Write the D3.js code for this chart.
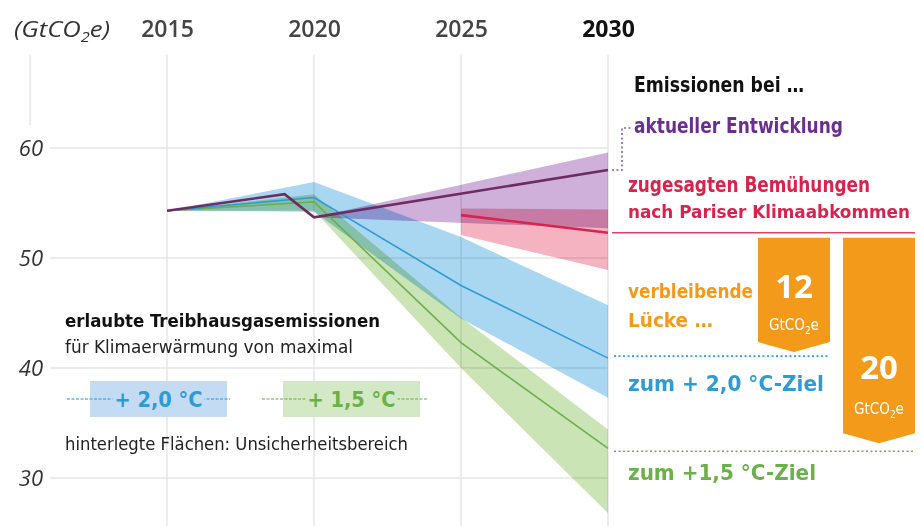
<!DOCTYPE html>
<html><head><meta charset="utf-8">
<script src="https://cdn.jsdelivr.net/npm/d3@7"></script>
<style>
html,body{margin:0;padding:0;background:#fff;}
svg{display:block;}
.nar{font-family:"Liberation Sans Narrow","DejaVu Sans Condensed","Roboto Condensed",sans-serif;}
.os{font-family:"Open Sans","DejaVu Sans",sans-serif;}
</style></head><body>
<svg id="c" width="922" height="526"></svg>
<script>
// ---- data ----
const yearTicks = [2015, 2020, 2025, 2030];
const valueTicks = [30, 40, 50, 60];

const trendYears = [2015, 2019, 2020, 2030];
const trendValues = [54.3, 55.8, 53.7, 58.0];
const trendBandYears = [2020, 2030];
const trendBandUpper = [53.7, 59.6];
const trendBandLower = [53.7, 52.7];

const pledgeYears = [2025, 2030];
const pledgeValues = [53.9, 52.3];
const pledgeUpper = [54.5, 54.4];
const pledgeLower = [52.1, 48.9];

const pathYears = [2015, 2020, 2025, 2030];
const twoDegValues = [54.3, 55.5, 47.5, 40.9];
const twoDegUpper = [54.3, 56.9, 51.9, 45.7];
const twoDegLower = [54.3, 54.2, 44.5, 37.3];
const oneFiveValues = [54.3, 55.1, 42.3, 32.7];
const oneFiveUpper = [54.3, 55.8, 44.6, 34.4];
const oneFiveLower = [54.3, 54.3, 40.0, 26.8];

const gaps = [12, 20];

// ---- setup ----
const svg = d3.select("#c");
const x = d3.scaleLinear().domain([2015, 2030]).range([167, 608]);
const y = d3.scaleLinear().domain([30, 60]).range([478, 148]);

const C = {
  purple:"#6e2c63", purpleBand:"#cfb0da", purpleText:"#6c2d91",
  red:"#d7234d", redBand:"#f5b2c0",
  blue:"#2f9bd5", blueBand:"#a9d7f1",
  green:"#6cb04a", greenBand:"#cae4b6",
  orange:"#f39a1a", grid:"#e6e6e6"
};

// grid
svg.append("g").selectAll("line").data(valueTicks).join("line")
  .attr("x1",50).attr("x2",x(2030)).attr("y1",d=>y(d)).attr("y2",d=>y(d))
  .attr("stroke",C.grid).attr("stroke-width",1.3);
svg.append("g").selectAll("line").data(yearTicks).join("line")
  .attr("x1",d=>x(d)).attr("x2",d=>x(d)).attr("y1",55).attr("y2",526)
  .attr("stroke",C.grid).attr("stroke-width",1.5);
svg.append("line").attr("x1",30).attr("x2",30).attr("y1",55).attr("y2",125)
  .attr("stroke",C.grid).attr("stroke-width",1.5);

// year axis
const gx = svg.append("g").attr("transform","translate(0,37)")
  .call(d3.axisTop(x).tickValues(yearTicks).tickSize(0).tickPadding(0).tickFormat(d3.format("d")));
gx.select(".domain").remove();
gx.selectAll("text").attr("class","os").attr("font-size",23)
  .attr("font-weight",d=>d===2030?700:600).attr("fill",d=>d===2030?"#111":"#444");

// value axis
const gy = svg.append("g").attr("transform","translate(43,0)")
  .call(d3.axisLeft(y).tickValues(valueTicks).tickSize(0).tickPadding(0));
gy.select(".domain").remove();
gy.selectAll("text").attr("class","os").attr("font-size",22).attr("font-style","italic")
  .attr("fill","#333").attr("dy","0.33em");

// unit
const unit = svg.append("text").attr("class","os").attr("x",14).attr("y",37)
  .attr("font-size",22).attr("font-style","italic").attr("fill","#333")
  .attr("textLength",96).attr("lengthAdjust","spacingAndGlyphs");
unit.append("tspan").text("(GtCO");
unit.append("tspan").text("2").attr("font-size",14).attr("dy",5);
unit.append("tspan").text("e)").attr("dy",-5);

// bands
function band(years, up, lo, fill){
  const d = years.map((yr,i)=>({yr, u:up[i], l:lo[i]}));
  svg.append("path").datum(d)
    .attr("d", d3.area().x(p=>x(p.yr)).y0(p=>y(p.l)).y1(p=>y(p.u)))
    .attr("fill",fill).style("mix-blend-mode","multiply");
}
function line(years, vals, stroke, w){
  svg.append("path").datum(years.map((yr,i)=>({yr,v:vals[i]})))
    .attr("d", d3.line().x(p=>x(p.yr)).y(p=>y(p.v)))
    .attr("fill","none").attr("stroke",stroke).attr("stroke-width",w)
    .attr("stroke-linejoin","miter");
}
band(pathYears, oneFiveUpper, oneFiveLower, C.greenBand);
band(pathYears, twoDegUpper, twoDegLower, C.blueBand);
band(trendBandYears, trendBandUpper, trendBandLower, C.purpleBand);
band(pledgeYears, pledgeUpper, pledgeLower, C.redBand);

line(pathYears, oneFiveValues, C.green, 1.6);
line(pathYears, twoDegValues, C.blue, 1.6);
line(pledgeYears, pledgeValues, C.red, 2.6);
line(trendYears, trendValues, C.purple, 2.6);

// right panel
const rx = 628;
function txt(t, xx, yy, size, fill, weight, len){
  const e = svg.append("text").attr("class","nar").attr("x",xx).attr("y",yy)
    .attr("font-size",size).attr("fill",fill).attr("font-weight",weight||400).text(t);
  if(len){ e.attr("textLength",len).attr("lengthAdjust","spacingAndGlyphs"); }
  return e;
}
txt("Emissionen bei …", 634, 92, 21, "#111", 700, 170);
txt("aktueller Entwicklung", 634, 133, 21, C.purpleText, 700, 209);
// dotted connector
svg.append("path")
  .attr("d",`M${x(2030)+4},${y(trendValues[3])} H622 V128 H632`)
  .attr("fill","none").attr("stroke","#8a5a9a").attr("stroke-width",1.6)
  .attr("stroke-dasharray","2,2.5");

txt("zugesagten Bemühungen", rx, 192, 21, C.red, 700, 242);
txt("nach Pariser Klimaabkommen", rx, 218, 18, C.red, 700, 282);
svg.append("line").attr("x1",612).attr("x2",915)
  .attr("y1",y(pledgeValues[1])).attr("y2",y(pledgeValues[1]))
  .attr("stroke",C.red).attr("stroke-width",1.6).attr("opacity",0.85);

txt("verbleibende", rx, 298, 20, C.orange, 700, 125);
txt("Lücke …", rx, 327, 20, C.orange, 700, 85);

// gap boxes
const boxTop = y(pledgeValues[1]) + 5;
const boxes = [
  {v:gaps[0], x0:758, x1:830, bottom:y(twoDegValues[3])-16, numY:298, unitY:330},
  {v:gaps[1], x0:843, x1:915, bottom:y(oneFiveValues[3])-15, numY:379, unitY:414}
];
boxes.forEach(b=>{
  const cx=(b.x0+b.x1)/2;
  svg.append("path").attr("d",`M${b.x0},${boxTop} H${b.x1} V${b.bottom} L${cx},${b.bottom+10} L${b.x0},${b.bottom} Z`)
    .attr("fill",C.orange);
  svg.append("text").attr("class","os").attr("x",cx).attr("y",b.numY)
    .attr("text-anchor","middle").attr("font-size",33).attr("font-weight",700)
    .attr("fill","#fff").text(b.v);
  const u = svg.append("text").attr("class","nar").attr("x",cx).attr("y",b.unitY)
    .attr("text-anchor","middle").attr("font-size",15).attr("fill","#fff");
  u.append("tspan").text("GtCO");
  u.append("tspan").text("2").attr("font-size",10).attr("dy",4);
  u.append("tspan").text("e").attr("dy",-4);
});

svg.append("line").attr("x1",614).attr("x2",830)
  .attr("y1",y(twoDegValues[3])-2).attr("y2",y(twoDegValues[3])-2)
  .attr("stroke",C.blue).attr("stroke-width",1.6).attr("stroke-dasharray","2,2.5");
txt("zum + 2,0 °C-Ziel", rx, 391, 21, C.blue, 700, 196);
svg.append("line").attr("x1",614).attr("x2",915)
  .attr("y1",y(oneFiveValues[3])+3).attr("y2",y(oneFiveValues[3])+3)
  .attr("stroke",C.green).attr("stroke-width",1.6).attr("stroke-dasharray","2,2.5");
txt("zum +1,5 °C-Ziel", rx, 480, 21, C.green, 700, 188);

// left legend
txt("erlaubte Treibhausgasemissionen", 65, 327, 18, "#111", 700, 315);
txt("für Klimaerwärmung von maximal", 65, 353, 18, "#222", 400, 288);
txt("hinterlegte Flächen: Unsicherheitsbereich", 65, 450, 18, "#222", 400, 343);

const legend = [
  {label:"+ 2,0 °C", x0:90, x1:227, l0:67, l1:230, band:"#c3dcf3", col:C.blue},
  {label:"+ 1,5 °C", x0:283, x1:420, l0:262, l1:427, band:"#d3e8c4", col:C.green}
];
legend.forEach(l=>{
  svg.append("rect").attr("x",l.x0).attr("y",381).attr("width",l.x1-l.x0).attr("height",36)
    .attr("fill",l.band);
  svg.append("line").attr("x1",l.l0).attr("x2",l.l1).attr("y1",399).attr("y2",399)
    .attr("stroke",l.col).attr("stroke-width",1.3).attr("opacity",0.7).attr("stroke-dasharray","3,1.5");
  const cx=(l.x0+l.x1)/2;
  svg.append("rect").attr("x",cx-46).attr("y",385).attr("width",92).attr("height",28).attr("fill",l.band);
  svg.append("text").attr("class","nar").attr("x",cx).attr("y",407).attr("text-anchor","middle")
    .attr("font-size",21).attr("font-weight",700).attr("fill",l.col)
    .attr("textLength",88).attr("lengthAdjust","spacingAndGlyphs").text(l.label);
});
</script>
</body></html>
